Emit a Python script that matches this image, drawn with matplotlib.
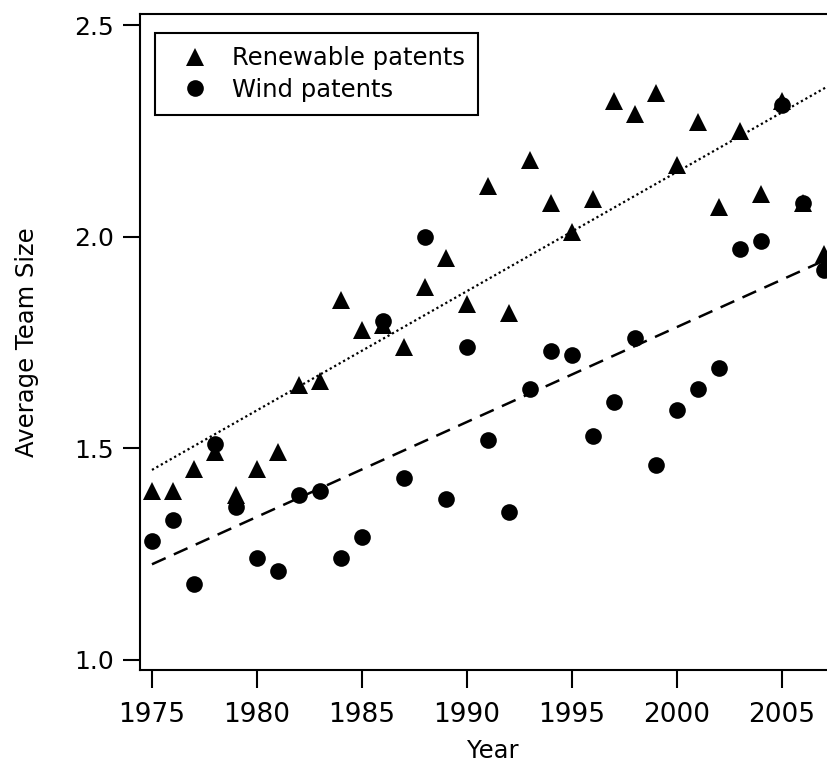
import numpy as np
import matplotlib
matplotlib.use("Agg")
import matplotlib.pyplot as plt

plt.rcParams['font.family'] = ['DejaVu Sans']

years = np.arange(1975, 2008)

# average team size per year
renewable = [1.40, 1.40, 1.45, 1.49, 1.39, 1.45, 1.49, 1.65, 1.66, 1.85,
             1.78, 1.79, 1.74, 1.88, 1.95, 1.84, 2.12, 1.82, 2.18, 2.08,
             2.01, 2.09, 2.32, 2.29, 2.34, 2.17, 2.27, 2.07, 2.25, 2.10,
             2.32, 2.08, 1.96]
wind = [1.28, 1.33, 1.18, 1.51, 1.36, 1.24, 1.21, 1.39, 1.40, 1.24,
        1.29, 1.80, 1.43, 2.00, 1.38, 1.74, 1.52, 1.35, 1.64, 1.73,
        1.72, 1.53, 1.61, 1.76, 1.46, 1.59, 1.64, 1.69, 1.97, 1.99,
        2.31, 2.08, 1.92]

xticks = [1975, 1980, 1985, 1990, 1995, 2000, 2005]
yticks = [1.0, 1.5, 2.0, 2.5]

fig = plt.figure(figsize=(8.27, 7.65), dpi=100)
# axes runs past the right edge, like the cropped original
ax = fig.add_axes([140/827, 95/765, 705/827, 656/765])

# linear trends
xfit = np.array([1975, 2008])
p_ren = np.polyfit(years, renewable, 1)
p_wind = np.polyfit(years, wind, 1)
ax.plot(xfit, np.polyval(p_ren, xfit), color='black', lw=1.6,
        dashes=(1, 1.3))
ax.plot(xfit, np.polyval(p_wind, xfit), color='black', lw=1.8,
        dashes=(6, 3.6))

ax.plot(years, renewable, '^', color='black', markersize=12.5, mew=0,
        label='Renewable patents')
ax.plot(years, wind, 'o', color='black', markersize=12, mew=0,
        label='Wind patents')

ax.set_xlim(1974.43, 2008)
ax.set_ylim(0.976, 2.526)
ax.set_xticks(xticks)
ax.set_yticks(yticks)
ax.set_yticklabels(['1.0', '1.5', '2.0', '2.5'])

for s in ax.spines.values():
    s.set_linewidth(1.5)
ax.tick_params(axis='x', direction='out', length=13, width=1.5, pad=10,
               labelsize=19)
ax.tick_params(axis='y', direction='out', length=12, width=1.5, pad=7,
               labelsize=18)

ax.set_xlabel('Year', fontsize=17.5, labelpad=8)
ax.set_ylabel('Average Team Size', fontsize=17.5, labelpad=25)

leg = ax.legend(loc='upper left', bbox_to_anchor=(155/827, 1 - 33/765),
                bbox_transform=fig.transFigure, borderaxespad=0,
                fontsize=17.5, fancybox=False, framealpha=1,
                edgecolor='black', handlelength=2.2, handletextpad=0.4,
                labelspacing=0.3, borderpad=0.55)
leg.get_frame().set_linewidth(1.5)

fig.savefig('out.png', dpi=100)
